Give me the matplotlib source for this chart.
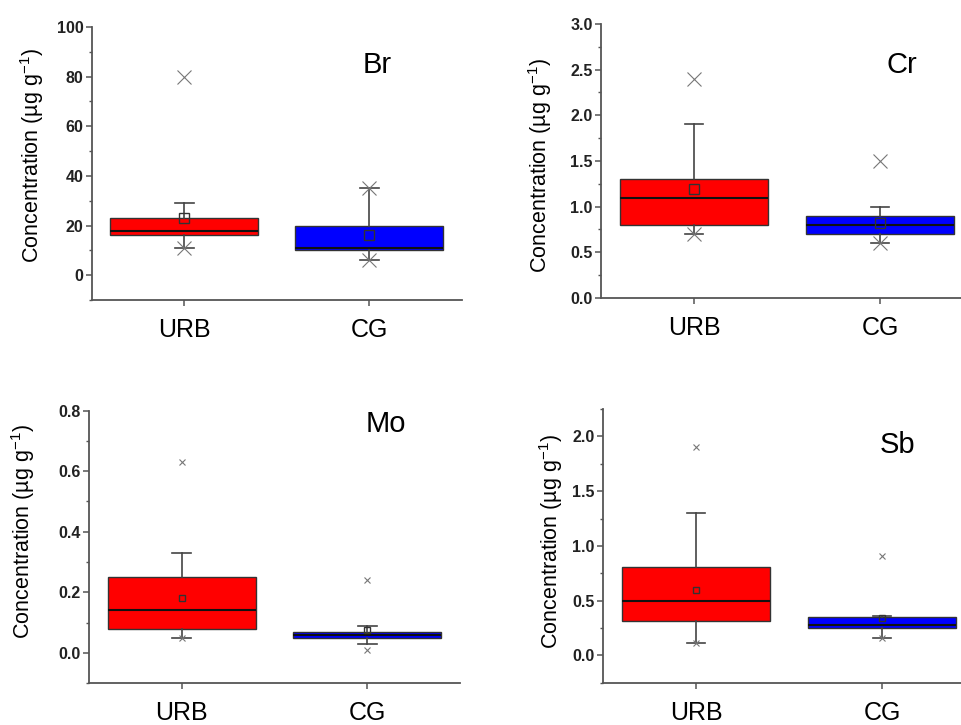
import matplotlib
matplotlib.use("Agg")
import matplotlib.pyplot as plt
from matplotlib.ticker import MultipleLocator

plt.rcParams['font.family'] = ['Liberation Sans', 'DejaVu Sans']

groups = ["URB", "CG"]
elements = ["Br", "Cr", "Mo", "Sb"]

# box statistics per element: [URB, CG]
br_q1, br_med, br_q3 = [16, 10], [18, 11], [23, 20]
br_mean, br_lo, br_hi = [23, 16], [11, 6], [29, 35]
br_max, br_min = [80, 35], [11, 6]

cr_q1, cr_med, cr_q3 = [0.8, 0.7], [1.1, 0.8], [1.3, 0.9]
cr_mean, cr_lo, cr_hi = [1.19, 0.82], [0.7, 0.6], [1.9, 1.0]
cr_max, cr_min = [2.4, 1.5], [0.7, 0.6]

mo_q1, mo_med, mo_q3 = [0.08, 0.05], [0.14, 0.06], [0.25, 0.07]
mo_mean, mo_lo, mo_hi = [0.18, 0.075], [0.05, 0.03], [0.33, 0.09]
mo_max, mo_min = [0.63, 0.24], [0.05, 0.01]

sb_q1, sb_med, sb_q3 = [0.31, 0.25], [0.50, 0.28], [0.81, 0.35]
sb_mean, sb_lo, sb_hi = [0.60, 0.34], [0.11, 0.16], [1.30, 0.36]
sb_max, sb_min = [1.9, 0.91], [0.11, 0.16]

data = {
    "Br": (br_q1, br_med, br_q3, br_mean, br_lo, br_hi, br_max, br_min),
    "Cr": (cr_q1, cr_med, cr_q3, cr_mean, cr_lo, cr_hi, cr_max, cr_min),
    "Mo": (mo_q1, mo_med, mo_q3, mo_mean, mo_lo, mo_hi, mo_max, mo_min),
    "Sb": (sb_q1, sb_med, sb_q3, sb_mean, sb_lo, sb_hi, sb_max, sb_min),
}

# layout / style per panel
panels = {
    "Br": dict(pos=[0.0956, 0.5862, 0.3846, 0.3766], ylim=(-10, 100), major=20, minor=10,
               ms=10, mean_ms=7, txt=(0.77, 0.86), lab=(-0.124, 0.53)),
    "Cr": dict(pos=[0.6247, 0.5890, 0.3867, 0.3779], ylim=(0, 3.0), major=0.5, minor=0.25,
               ms=10, mean_ms=7, txt=(0.81, 0.85), lab=(-0.126, 0.485)),
    "Mo": dict(pos=[0.0925, 0.0579, 0.3857, 0.3756], ylim=(-0.1, 0.8), major=0.2, minor=0.1,
               ms=4, mean_ms=4, txt=(0.80, 0.95), lab=(-0.14, 0.555)),
    "Sb": dict(pos=[0.6268, 0.0583, 0.3867, 0.3775], ylim=(-0.25, 2.25), major=0.5, minor=0.25,
               ms=4, mean_ms=4, txt=(0.793, 0.87), lab=(-0.102, 0.516)),
}

colors = ["#ff0000", "#0000ff"]
spine_col = "#555555"
positions = [1, 2]

fig = plt.figure(figsize=(9.62, 7.25), dpi=100)

for el in elements:
    cfg = panels[el]
    q1, med, q3, mean, lo, hi, mx, mn = data[el]
    ax = fig.add_axes(cfg["pos"])

    stats = []
    for i, g in enumerate(groups):
        stats.append(dict(label=g, q1=q1[i], med=med[i], q3=q3[i], mean=mean[i],
                          whislo=lo[i], whishi=hi[i], fliers=[]))

    bp = ax.bxp(stats, positions=positions, widths=0.8, capwidths=0.1,
                patch_artist=True, showmeans=True, showfliers=False, manage_ticks=False,
                boxprops=dict(edgecolor="#333333", linewidth=1.0),
                medianprops=dict(color="#111111", linewidth=1.5),
                whiskerprops=dict(color="#444444", linewidth=1.2),
                capprops=dict(color="#444444", linewidth=1.2),
                meanprops=dict(marker="s", markerfacecolor="none", markeredgecolor="#333333",
                               markersize=cfg["mean_ms"], markeredgewidth=1.0))
    for patch, c in zip(bp["boxes"], colors):
        patch.set_facecolor(c)

    # max / min crosses
    ax.plot(positions, mx, linestyle="none", marker="x", color="#777777",
            markersize=cfg["ms"], markeredgewidth=0.8, zorder=4)
    ax.plot(positions, mn, linestyle="none", marker="x", color="#777777",
            markersize=cfg["ms"], markeredgewidth=0.8, zorder=4)

    ax.set_xlim(0.5, 2.5)
    ax.set_ylim(*cfg["ylim"])
    ax.yaxis.set_major_locator(MultipleLocator(cfg["major"]))
    ax.yaxis.set_minor_locator(MultipleLocator(cfg["minor"]))
    ax.set_yticks([t for t in ax.get_yticks() if 0 <= t <= cfg["ylim"][1] + 1e-9])
    ax.set_xticks(positions)
    ax.set_xticklabels(groups, fontsize=18)

    for side in ["top", "right"]:
        ax.spines[side].set_visible(False)
    for side in ["left", "bottom"]:
        ax.spines[side].set_color(spine_col)
        ax.spines[side].set_linewidth(1.3)

    ax.tick_params(axis="y", which="major", direction="out", length=4, width=1.1,
                   color=spine_col, labelsize=11.5, pad=2)
    ax.tick_params(axis="y", which="minor", direction="out", length=2.5, width=1.0,
                   color=spine_col)
    ax.tick_params(axis="x", which="major", direction="out", length=4, width=1.1,
                   color=spine_col, pad=9)
    for lbl in ax.get_yticklabels():
        lbl.set_fontweight("bold")
        lbl.set_color("#222222")

    ax.set_ylabel("Concentration (µg g$^{\\mathregular{-1}}$)", fontsize=15.5)
    ax.yaxis.set_label_coords(*cfg["lab"])
    ax.text(cfg["txt"][0], cfg["txt"][1], el, transform=ax.transAxes,
            fontsize=21, ha="center", va="center")

fig.savefig("out.png", dpi=100)
